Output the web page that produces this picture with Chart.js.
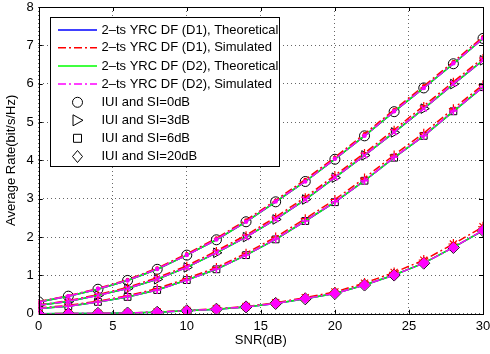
<!DOCTYPE html>
<html><head><meta charset="utf-8">
<script src="https://cdn.jsdelivr.net/npm/chart.js@4/dist/chart.umd.min.js"></script>
<style>html,body{margin:0;padding:0;background:#fff}canvas{display:block}</style>
</head><body>
<canvas id="c" width="490" height="354"></canvas>
<script>
const snr = [0,2,4,6,8,10,12,14,16,18,20,22,24,26,28,30];
const xTicks = [0,5,10,15,20,25,30];
const yTicks = [0,1,2,3,4,5,6,7,8];

const theoD1_SI0  = [0.31,0.46,0.64,0.87,1.16,1.53,1.93,2.40,2.92,3.45,4.03,4.64,5.27,5.89,6.52,7.18];
const theoD1_SI3  = [0.22,0.32,0.48,0.66,0.90,1.21,1.59,2.00,2.46,2.98,3.55,4.13,4.73,5.35,5.99,6.61];
const theoD1_SI6  = [0.14,0.20,0.31,0.44,0.62,0.88,1.16,1.53,1.94,2.42,2.91,3.47,4.07,4.64,5.28,5.91];
const theoD1_SI20 = [0.00,0.005,0.01,0.02,0.04,0.08,0.12,0.18,0.27,0.39,0.53,0.75,1.01,1.32,1.73,2.17];

const simD1_SI0  = [0.32,0.47,0.66,0.89,1.19,1.56,1.97,2.44,2.96,3.50,4.08,4.69,5.32,5.94,6.57,7.22];
const simD1_SI3  = [0.23,0.34,0.50,0.69,0.94,1.25,1.64,2.05,2.52,3.04,3.61,4.19,4.80,5.42,6.05,6.67];
const simD1_SI6  = [0.15,0.22,0.33,0.47,0.66,0.92,1.21,1.58,2.00,2.48,2.98,3.54,4.14,4.71,5.35,5.97];
const simD1_SI20 = [0.00,0.01,0.01,0.02,0.05,0.09,0.13,0.19,0.29,0.42,0.57,0.80,1.08,1.40,1.82,2.27];

const theoD2_SI0  = [0.31,0.46,0.64,0.87,1.16,1.53,1.93,2.40,2.92,3.45,4.03,4.64,5.27,5.89,6.52,7.18];
const theoD2_SI3  = [0.22,0.32,0.48,0.66,0.90,1.21,1.59,2.00,2.46,2.98,3.55,4.13,4.73,5.35,5.99,6.61];
const theoD2_SI6  = [0.14,0.20,0.31,0.44,0.62,0.88,1.16,1.53,1.94,2.42,2.91,3.47,4.07,4.64,5.28,5.91];
const theoD2_SI20 = [0.00,0.005,0.01,0.02,0.04,0.08,0.12,0.18,0.27,0.39,0.53,0.75,1.01,1.32,1.73,2.17];

const simD2_SI0  = [0.31,0.46,0.65,0.87,1.17,1.53,1.94,2.40,2.93,3.45,4.04,4.64,5.28,5.89,6.53,7.18];
const simD2_SI3  = [0.22,0.33,0.48,0.66,0.91,1.21,1.60,2.00,2.47,2.98,3.56,4.13,4.74,5.35,6.00,6.61];
const simD2_SI6  = [0.14,0.20,0.31,0.45,0.62,0.88,1.17,1.53,1.95,2.42,2.92,3.47,4.08,4.64,5.29,5.91];
const simD2_SI20 = [0.00,0.005,0.01,0.02,0.04,0.08,0.12,0.18,0.27,0.40,0.53,0.75,1.01,1.32,1.73,2.18];

const seriesLabels = ['2\u2013ts YRC DF (D1), Theoretical','2\u2013ts YRC DF (D1), Simulated','2\u2013ts YRC DF (D2), Theoretical','2\u2013ts YRC DF (D2), Simulated'];
const markerLabels = ['IUI and SI=0dB','IUI and SI=3dB','IUI and SI=6dB','IUI and SI=20dB'];

const pts = arr => arr.map((v,i)=>({x:snr[i], y:v}));
const DASHDOT = [8,3,2,3];
const FONT = '"Liberation Sans", Arial, Helvetica, sans-serif';

const groups = [
  {theo1:theoD1_SI0, sim1:simD1_SI0, theo2:theoD2_SI0, sim2:simD2_SI0, mk:'circle', rot:0, r:5, simStyle1:'circle', simR1:1.3, simStyle2:'circle', simR2:1.5},
  {theo1:theoD1_SI3, sim1:simD1_SI3, theo2:theoD2_SI3, sim2:simD2_SI3, mk:'triangle', rot:90, r:5.5, simStyle1:'cross', simR1:4, simStyle2:'crossRot', simR2:4},
  {theo1:theoD1_SI6, sim1:simD1_SI6, theo2:theoD2_SI6, sim2:simD2_SI6, mk:'rect', rot:0, r:4.8, simStyle1:'cross', simR1:4.5, simStyle2:'cross', simR2:4},
  {theo1:theoD1_SI20, sim1:simD1_SI20, theo2:theoD2_SI20, sim2:simD2_SI20, mk:'rectRot', rot:0, r:6, simStyle1:'star', simR1:5, simStyle2:'rectRot', simR2:4.5},
];

const datasets = [];
groups.forEach(g => datasets.push({label:seriesLabels[0], data:pts(g.theo1), borderColor:'#0000ff', borderWidth:1.5, pointRadius:0, showLine:true}));
groups.forEach((g,i) => datasets.push({label:markerLabels[i], data:pts(g.theo1), showLine:false, pointStyle:g.mk, pointRotation:g.rot, pointRadius:g.r, borderColor:'#000', backgroundColor:'rgba(0,0,0,0)', pointBorderWidth:1}));
groups.forEach(g => datasets.push({label:seriesLabels[1], data:pts(g.sim1), borderColor:'#ff0000', borderWidth:1.5, borderDash:DASHDOT, showLine:true, pointStyle:g.simStyle1, pointRadius:g.simR1, pointBorderColor:'#ff0000', pointBackgroundColor:'#ff0000', pointBorderWidth:1.2}));
groups.forEach(g => datasets.push({label:seriesLabels[2], data:pts(g.theo2), borderColor:'#00ff00', borderWidth:1.5, pointRadius:0, showLine:true}));
groups.forEach(g => datasets.push({label:seriesLabels[3], data:pts(g.sim2), borderColor:'#ff00ff', borderWidth:1.5, borderDash:DASHDOT, showLine:true, pointStyle:g.simStyle2, pointRadius:g.simR2, pointBorderColor:'#ff00ff', pointBackgroundColor:'#ff00ff', pointBorderWidth:1.5}));
const N = datasets.length;
datasets.forEach((d,i)=>{ d.order = N - i; d.tension = 0; d.fill = false; d.pointHoverRadius = d.pointRadius; });

function drawMarker(ctx, style, x, y) {
  ctx.save();
  ctx.strokeStyle = '#000'; ctx.lineWidth = 1;
  ctx.beginPath();
  if (style === 'circle') { ctx.arc(x, y, 5, 0, Math.PI*2); }
  else if (style === 'triangle') { ctx.moveTo(x+5.5, y); ctx.lineTo(x-4.5, y-5.5); ctx.lineTo(x-4.5, y+5.5); ctx.closePath(); }
  else if (style === 'rect') { ctx.rect(x-4, y-4, 8, 8); }
  else if (style === 'rectRot') { ctx.moveTo(x, y-6); ctx.lineTo(x+5, y); ctx.lineTo(x, y+6); ctx.lineTo(x-5, y); ctx.closePath(); }
  ctx.stroke();
  ctx.restore();
}

const framePlugin = {
  id: 'frame',
  afterDraw(chart) {
    const {ctx, chartArea:a, scales} = chart;
    ctx.save();
    ctx.strokeStyle = '#000'; ctx.lineWidth = 1;
    ctx.strokeRect(Math.round(a.left)+0.5, Math.round(a.top)+0.5, Math.round(a.right-a.left), Math.round(a.bottom-a.top));
    ctx.beginPath();
    xTicks.forEach(t => { const px = Math.round(scales.x.getPixelForValue(t))+0.5;
      ctx.moveTo(px, a.bottom); ctx.lineTo(px, a.bottom-4); ctx.moveTo(px, a.top); ctx.lineTo(px, a.top+4); });
    yTicks.forEach(t => { const py = Math.round(scales.y.getPixelForValue(t))+0.5;
      ctx.moveTo(a.left, py); ctx.lineTo(a.left+4, py); ctx.moveTo(a.right, py); ctx.lineTo(a.right-4, py); });
    ctx.stroke();

    // legend box
    const bx = 50.5, by = 17.5, bw = 229, bh = 149;
    ctx.fillStyle = '#fff'; ctx.fillRect(bx, by, bw, bh);
    ctx.strokeRect(bx, by, bw, bh);
    const rowY = [30, 47.8, 66, 84, 102.3, 120.3, 138.3, 156.5];
    const lineCols = ['#0000ff','#ff0000','#00ff00','#ff00ff'];
    const dashes = [[], DASHDOT, [], DASHDOT];
    ctx.font = '13px ' + FONT; ctx.fillStyle = '#000'; ctx.textBaseline = 'middle'; ctx.textAlign = 'left';
    for (let i = 0; i < 4; i++) {
      ctx.save();
      ctx.strokeStyle = lineCols[i]; ctx.lineWidth = 1.5; ctx.setLineDash(dashes[i]);
      ctx.beginPath(); ctx.moveTo(58, rowY[i]); ctx.lineTo(97, rowY[i]); ctx.stroke();
      ctx.restore();
      ctx.fillText(seriesLabels[i], 101.5, rowY[i]);
    }
    const mks = ['circle','triangle','rect','rectRot'];
    for (let i = 0; i < 4; i++) {
      drawMarker(ctx, mks[i], 77.5, rowY[4+i]);
      ctx.fillStyle = '#000';
      ctx.fillText(markerLabels[i], 101.5, rowY[4+i]);
    }
    ctx.restore();
  }
};

new Chart(document.getElementById('c'), {
  type: 'scatter',
  data: { datasets },
  plugins: [framePlugin],
  options: {
    responsive: false,
    devicePixelRatio: 1,
    animation: false,
    events: [],
    layout: { padding: { top: 5.6, right: 4.3, left: 0, bottom: 0 } },
    plugins: { legend: { display: false }, tooltip: { enabled: false } },
    scales: {
      x: {
        type: 'linear', min: 0, max: 30,
        afterFit: s => { s.height = 40.2; s.paddingLeft = 0; s.paddingRight = 0; },
        afterBuildTicks: s => { s.ticks = xTicks.map(v => ({value: v})); },
        ticks: { color: '#000', font: { family: FONT, size: 13 }, padding: 5, maxRotation: 0 },
        grid: { color: 'rgba(0,0,0,0.6)', lineWidth: 1, drawTicks: false },
        border: { display: false, dash: [1,3] },
        title: { display: true, text: 'SNR(dB)', color: '#000', font: { family: FONT, size: 13 }, padding: { top: 0, bottom: 5.5 } }
      },
      y: {
        type: 'linear', min: 0, max: 8,
        afterFit: s => { s.width = 38.7; s.paddingTop = 0; s.paddingBottom = 0; },
        afterBuildTicks: s => { s.ticks = yTicks.map(v => ({value: v})); },
        ticks: { color: '#000', font: { family: FONT, size: 13 }, padding: 5 },
        grid: { color: 'rgba(0,0,0,0.6)', lineWidth: 1, drawTicks: false },
        border: { display: false, dash: [1,3] },
        title: { display: true, text: 'Average Rate(bit/s/Hz)', color: '#000', font: { family: FONT, size: 13 }, padding: { top: 3.5, bottom: 0 } }
      }
    }
  }
});
</script>
</body></html>
